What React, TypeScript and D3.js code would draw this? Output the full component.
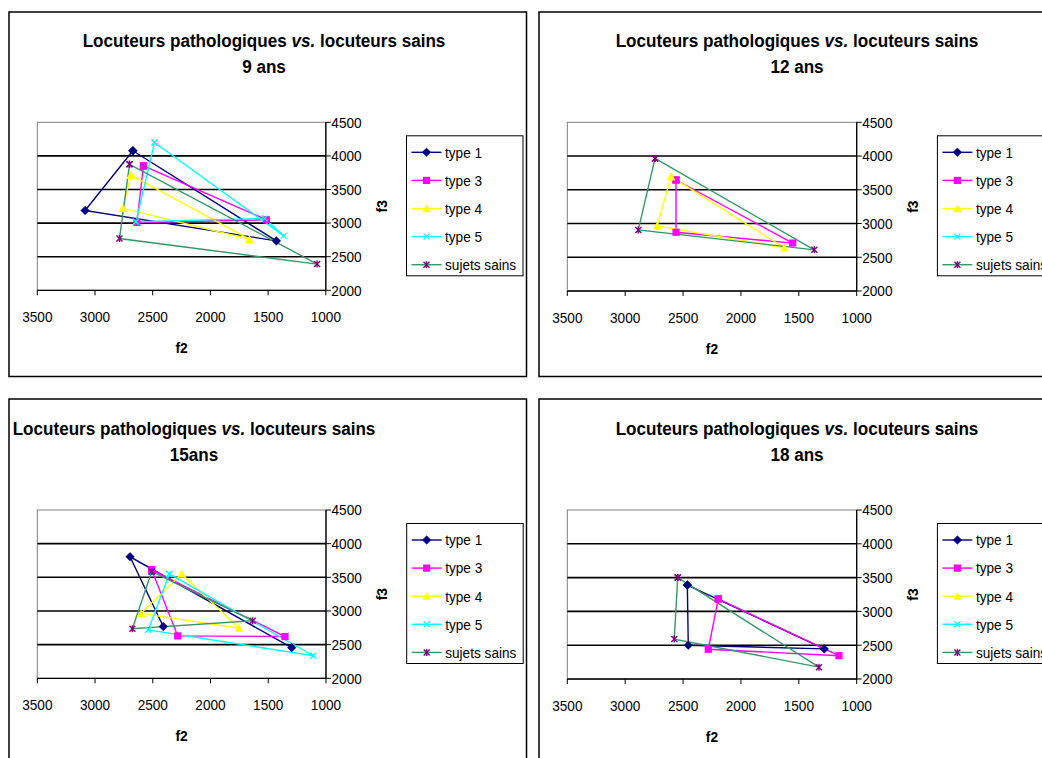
import React from "react";
import * as d3 from "d3";

// ---- data (f2, f3 in Hz) ----
const seriesNames = ["type 1", "type 3", "type 4", "type 5", "sujets sains"];
const panelTitles = ["9 ans", "12 ans", "15ans", "18 ans"];
const mainTitle = ["Locuteurs pathologiques ", "vs.", " locuteurs sains"];
const xTicks = [3500, 3000, 2500, 2000, 1500, 1000];
const yTicks = [2000, 2500, 3000, 3500, 4000, 4500];

// 9 ans
const a9_type1 = [[2672, 4077], [3086, 3188], [1428, 2735], [2672, 4077]];
const a9_type3 = [[2580, 3850], [2637, 3010], [1515, 3050], [2580, 3850]];
const a9_type4 = [[2689, 3715], [2759, 3220], [1662, 2760], [2689, 3715]];
const a9_type5 = [[2484, 4200], [2645, 3020], [1530, 3070], [1365, 2810], [2484, 4200]];
const a9_sains = [[2701, 3875], [2788, 2770], [1075, 2390], [2701, 3875]];

// 12 ans
const a12_type1: number[][] = [];
const a12_type3 = [[2561, 3645], [2561, 2870], [1553, 2710], [2561, 3645]];
const a12_type4 = [[2604, 3695], [2723, 2965], [1625, 2640], [2604, 3695]];
const a12_type5: number[][] = [];
const a12_sains = [[2742, 3965], [2887, 2905], [1366, 2610], [2742, 3965]];

// 15 ans
const a15_type1 = [[2409, 2770], [2697, 3805], [1297, 2455]];
const a15_type3 = [[2509, 3610], [2284, 2630], [1355, 2620], [2509, 3610]];
const a15_type4 = [[2250, 3550], [2602, 2965], [1753, 2745], [2250, 3550]];
const a15_type5 = [[2357, 3550], [2539, 2720], [1110, 2335], [2357, 3550]];
const a15_sains = [[2509, 3585], [2677, 2735], [1635, 2855], [2509, 3585]];

// 18 ans
const a18_type1 = [[2463, 3390], [2455, 2500], [1280, 2445], [2463, 3390]];
const a18_type3 = [[2196, 3185], [2282, 2440], [1153, 2345], [2196, 3185]];
const a18_type4: number[][] = [];
const a18_type5: number[][] = [];
const a18_sains = [[2546, 3500], [2576, 2590], [1326, 2175], [2546, 3500]];

const panelData = [
  [a9_type1, a9_type3, a9_type4, a9_type5, a9_sains],
  [a12_type1, a12_type3, a12_type4, a12_type5, a12_sains],
  [a15_type1, a15_type3, a15_type4, a15_type5, a15_sains],
  [a18_type1, a18_type3, a18_type4, a18_type5, a18_sains],
];

// ---- styles ----
const lineColors = ["#000080", "#FF00FF", "#FFFF00", "#00FFFF", "#339966"];
const markerColors = ["#000080", "#FF00FF", "#FFFF00", "#00FFFF", "#800080"];
const FONT = "'Liberation Sans', Arial, sans-serif";

const panels = [
  { px: 37.3, py: 122.3, w: 288.5, h: 168, titleX: 264 },
  { px: 567.3, py: 122.3, w: 289.4, h: 168.7, titleX: 797 },
  { px: 37.3, py: 510, w: 288.7, h: 168.3, titleX: 194 },
  { px: 567.3, py: 510, w: 289.4, h: 169, titleX: 797 },
];

function SText({
  x,
  y,
  sx,
  size,
  anchor,
  bold,
  children,
}: {
  x: number;
  y: number;
  sx: number;
  size: number;
  anchor?: string;
  bold?: boolean;
  children: React.ReactNode;
}) {
  return (
    <text
      transform={`translate(${x},${y}) scale(${sx},1)`}
      textAnchor={anchor || "start"}
      fontFamily={FONT}
      fontSize={size}
      fontWeight={bold ? "bold" : "normal"}
      fill="#000"
    >
      {children}
    </text>
  );
}

function Marker({ kind, x, y }: { kind: number; x: number; y: number }) {
  const c = markerColors[kind];
  if (kind === 0) {
    const s = 4.3;
    return <path d={`M${x},${y - s}L${x + s},${y}L${x},${y + s}L${x - s},${y}Z`} fill={c} stroke={c} strokeWidth={0.5} />;
  }
  if (kind === 1) {
    const s = 3.6;
    return <rect x={x - s} y={y - s} width={2 * s} height={2 * s} fill={c} />;
  }
  if (kind === 2) {
    const s = 4.3;
    return <path d={`M${x},${y - s}L${x + s},${y + s * 0.85}L${x - s},${y + s * 0.85}Z`} fill={c} />;
  }
  if (kind === 3) {
    const s = 3;
    return <path d={`M${x - s},${y - s}L${x + s},${y + s}M${x + s},${y - s}L${x - s},${y + s}`} stroke={c} strokeWidth={1.3} fill="none" />;
  }
  const s = 3;
  return (
    <path
      d={`M${x - s},${y - s}L${x + s},${y + s}M${x + s},${y - s}L${x - s},${y + s}M${x},${y - s - 0.5}L${x},${y + s + 0.5}`}
      stroke={c}
      strokeWidth={1.4}
      fill="none"
    />
  );
}

function Panel({ idx }: { idx: number }) {
  const p = panels[idx];
  const x = d3.scaleLinear().domain([3500, 1000]).range([p.px, p.px + p.w]);
  const y = d3.scaleLinear().domain([2000, 4500]).range([p.py + p.h, p.py]);
  const line = d3
    .line<number[]>()
    .x((d) => x(d[0]))
    .y((d) => y(d[1]));
  const right = p.px + p.w;
  const bottom = p.py + p.h;
  const frameX = p.px - 28.3;
  const frameY = p.py - 110.3 + (idx >= 2 ? -0.7 : 0);
  const lgX = right + 80.7;
  const lgY = p.py + 13.5;
  const series = panelData[idx];
  return (
    <g>
      <rect x={frameX} y={frameY} width={517.5} height={364.5} fill="#fff" stroke="#000" strokeWidth={1.5} />
      {/* title */}
      <SText x={p.titleX} y={p.py - 75} sx={0.9} size={19} anchor="middle" bold>
        {mainTitle[0]}
        <tspan fontStyle="italic">{mainTitle[1]}</tspan>
        {mainTitle[2]}
      </SText>
      <SText x={p.titleX} y={p.py - 49} sx={0.9} size={19} anchor="middle" bold>
        {panelTitles[idx]}
      </SText>
      {/* plot area */}
      <rect x={p.px} y={p.py} width={p.w} height={p.h} fill="#fff" stroke="#808080" strokeWidth={1} />
      {yTicks.slice(1, 5).map((t) => (
        <line key={t} x1={p.px} x2={right} y1={y(t)} y2={y(t)} stroke="#000" strokeWidth={1.6} />
      ))}
      {/* right axis */}
      <line x1={right} x2={right} y1={p.py} y2={bottom} stroke="#000" strokeWidth={1.3} />
      {yTicks.map((t) => (
        <g key={t}>
          <line x1={right} x2={right + 5} y1={y(t)} y2={y(t)} stroke="#000" strokeWidth={1} />
          <SText x={right + 5.5} y={y(t) + 5.3} sx={0.94} size={14.5}>
            {t}
          </SText>
        </g>
      ))}
      {/* bottom axis */}
      <line x1={p.px} x2={right} y1={bottom} y2={bottom} stroke="#000" strokeWidth={1.3} />
      {xTicks.map((t) => (
        <g key={t}>
          <line x1={x(t)} x2={x(t)} y1={bottom} y2={bottom + 5} stroke="#000" strokeWidth={1} />
          <SText x={x(t)} y={bottom + 32} sx={0.94} size={14.5} anchor="middle">
            {t}
          </SText>
        </g>
      ))}
      <SText x={p.px + p.w / 2} y={bottom + 63} sx={0.92} size={15} anchor="middle" bold>
        f2
      </SText>
      <text
        transform={`translate(${right + 61},${p.py + p.h / 2}) rotate(-90) scale(0.92,1)`}
        textAnchor="middle"
        fontFamily={FONT}
        fontWeight="bold"
        fontSize={15}
      >
        f3
      </text>
      {/* series */}
      {series.map((s, i) =>
        s.length ? (
          <path key={"l" + i} d={line(s) || ""} fill="none" stroke={lineColors[i]} strokeWidth={1.4} />
        ) : null
      )}
      {series.map((s, i) =>
        s.map((d, j) => <Marker key={"m" + i + "_" + j} kind={i} x={x(d[0])} y={y(d[1])} />)
      )}
      {/* legend */}
      <rect x={lgX} y={lgY} width={116.5} height={140} fill="#fff" stroke="#000" strokeWidth={1} />
      {seriesNames.map((n, i) => {
        const ly = lgY + 16.5 + i * 28.1;
        return (
          <g key={n}>
            <line x1={lgX + 5} x2={lgX + 35} y1={ly} y2={ly} stroke={lineColors[i]} strokeWidth={1.4} />
            <Marker kind={i} x={lgX + 20} y={ly} />
            <SText x={lgX + 38.5} y={ly + 5.3} sx={0.94} size={14.5}>
              {n}
            </SText>
          </g>
        );
      })}
    </g>
  );
}

export default function App() {
  return (
    <svg
      width={1042}
      height={758}
      style={{ position: "absolute", left: 0, top: 0, display: "block", background: "#fff" }}
    >
      <rect width={1042} height={758} fill="#fff" />
      {[0, 1, 2, 3].map((i) => (
        <Panel key={i} idx={i} />
      ))}
    </svg>
  );
}
